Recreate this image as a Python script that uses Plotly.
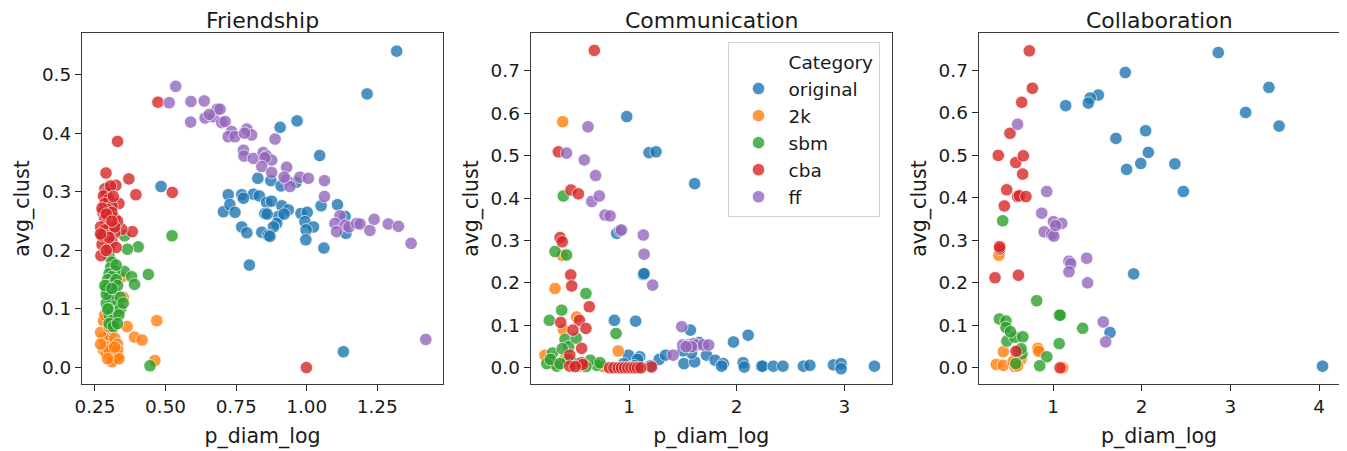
import plotly.graph_objects as go

# ---------------- data ----------------
panels = ["Friendship", "Communication", "Collaboration"]
categories = ["original", "2k", "sbm", "cba", "ff"]
colors = ["#1f77b4", "#ff7f0e", "#2ca02c", "#d62728", "#9467bd"]

# Friendship
fr_original = [(1.319,0.540),(1.214,0.467),(0.966,0.421),(0.906,0.410),(1.046,0.362),(0.484,0.309),(0.827,0.323),
    (0.873,0.319),(0.909,0.310),(0.962,0.316),(0.722,0.295),(0.770,0.295),(0.811,0.296),(0.832,0.293),(0.705,0.266),
    (0.728,0.278),(0.746,0.265),(0.776,0.289),(0.858,0.282),(0.876,0.284),(0.912,0.276),(0.935,0.269),(0.852,0.263),
    (0.900,0.258),(0.894,0.246),(0.882,0.240),(0.980,0.263),(1.002,0.265),(0.994,0.249),(1.024,0.240),(0.998,0.235),
    (0.997,0.218),(1.051,0.276),(1.109,0.278),(1.061,0.204),(0.770,0.240),(0.788,0.230),(0.841,0.231),(0.864,0.226),
    (0.797,0.175),(1.136,0.258),(1.139,0.229),(1.130,0.027),(0.860,0.262),(0.870,0.224),(0.920,0.262)]
fr_2k = [(0.469,0.080),(0.364,0.070),(0.390,0.052),(0.417,0.047),(0.462,0.012),(0.350,0.120),(0.345,0.155),
    (0.280,0.050),(0.290,0.045),(0.300,0.040),(0.280,0.030),(0.290,0.025),(0.310,0.020),(0.320,0.015),(0.330,0.020),
    (0.300,0.055),(0.270,0.060),(0.310,0.065),(0.320,0.050),(0.330,0.040),(0.290,0.035),(0.300,0.030),(0.330,0.030),
    (0.280,0.080),(0.270,0.040),(0.310,0.010),(0.335,0.015),(0.300,0.070),(0.285,0.090),(0.320,0.035),(0.295,0.015)]
fr_sbm = [(0.523,0.225),(0.403,0.206),(0.365,0.202),(0.354,0.164),(0.380,0.155),(0.390,0.142),(0.439,0.159),
    (0.445,0.003),(0.355,0.225),(0.300,0.190),(0.310,0.180),(0.305,0.170),(0.320,0.165),(0.300,0.160),(0.310,0.155),
    (0.295,0.150),(0.315,0.145),(0.300,0.140),(0.290,0.135),(0.320,0.130),(0.305,0.125),(0.300,0.120),(0.310,0.115),
    (0.290,0.110),(0.320,0.105),(0.300,0.100),(0.310,0.095),(0.300,0.090),(0.320,0.085),(0.310,0.080),(0.300,0.075),
    (0.315,0.070),(0.340,0.120),(0.340,0.100),(0.335,0.090),(0.350,0.110),(0.325,0.150),(0.290,0.125),(0.285,0.140),
    (0.330,0.140),(0.325,0.175),(0.310,0.135),(0.295,0.100),(0.330,0.075)]
fr_cba = [(0.473,0.453),(0.524,0.299),(0.330,0.386),(0.999,0.000),(0.289,0.332),(0.370,0.322),(0.324,0.311),
    (0.395,0.295),(0.382,0.232),(0.345,0.236),(0.271,0.191),(0.335,0.280),(0.285,0.305),(0.290,0.298),(0.280,0.293),
    (0.300,0.288),(0.285,0.280),(0.310,0.275),(0.295,0.270),(0.278,0.265),(0.300,0.260),(0.285,0.255),(0.320,0.255),
    (0.330,0.250),(0.290,0.245),(0.270,0.240),(0.300,0.240),(0.285,0.235),(0.320,0.230),(0.295,0.225),(0.280,0.220),
    (0.310,0.215),(0.275,0.210),(0.300,0.205),(0.325,0.205),(0.290,0.200),(0.305,0.310),(0.315,0.292),(0.275,0.272),
    (0.310,0.265),(0.320,0.240),(0.275,0.225),(0.300,0.222),(0.290,0.262),(0.270,0.228),(0.310,0.250)]
fr_ff = [(0.536,0.480),(0.513,0.452),(0.590,0.454),(0.637,0.455),(0.589,0.419),(0.640,0.426),(0.669,0.428),
    (0.683,0.441),(0.699,0.418),(0.655,0.432),(0.693,0.441),(0.711,0.420),(0.734,0.403),(0.722,0.394),(0.746,0.394),
    (0.788,0.407),(0.805,0.397),(0.780,0.400),(0.888,0.390),(0.776,0.371),(0.778,0.361),(0.811,0.357),(0.846,0.367),
    (0.858,0.361),(0.876,0.354),(0.852,0.358),(0.841,0.343),(0.876,0.333),(0.929,0.342),(0.929,0.320),(0.941,0.309),
    (0.920,0.325),(0.976,0.325),(1.006,0.323),(1.063,0.319),(1.063,0.292),(1.118,0.259),(1.100,0.246),(1.136,0.243),
    (1.106,0.232),(1.150,0.240),(1.177,0.246),(1.189,0.245),(1.224,0.234),(1.239,0.253),(1.289,0.245),(1.325,0.241),
    (1.370,0.212),(1.422,0.048)]

# Communication
co_original = [(0.979,0.592),(1.186,0.507),(1.251,0.509),(1.610,0.434),(0.886,0.317),(1.133,0.220),(1.140,0.222),
    (0.864,0.112),(1.062,0.110),(1.570,0.089),(1.970,0.061),(2.107,0.077),(0.994,0.030),(1.100,0.026),(1.080,0.020),
    (1.280,0.020),(1.340,0.030),(1.510,0.010),(1.610,0.014),(1.580,0.035),(1.720,0.030),(1.800,0.018),(1.876,0.010),
    (1.860,0.004),(2.060,0.012),(2.070,0.002),(2.230,0.004),(2.240,0.004),(2.340,0.004),(2.430,0.004),(2.620,0.004),
    (2.680,0.006),(2.900,0.007),(2.970,0.010),(2.970,-0.002),(3.280,0.004),(1.050,0.005),(1.200,0.005),(1.650,0.060),
    (1.500,0.040),(0.950,0.010)]
co_2k = [(0.384,0.580),(0.313,0.187),(0.514,0.120),(0.390,0.090),(0.900,0.040),(0.220,0.030),(0.400,0.020),
    (0.550,0.005),(0.760,0.003),(0.380,0.265),(0.300,0.010)]
co_sbm = [(0.390,0.405),(0.313,0.274),(0.420,0.266),(0.600,0.175),(0.375,0.136),(0.260,0.112),(0.880,0.081),
    (0.406,0.067),(0.440,0.050),(0.290,0.035),(0.236,0.010),(0.330,0.004),(0.700,0.006),(0.640,0.018),(0.500,0.010),
    (0.510,0.070),(0.380,0.045),(0.270,0.020),(0.600,0.003),(0.730,0.012),(0.430,0.020),(0.360,0.010)]
co_cba = [(0.678,0.748),(0.344,0.509),(0.360,0.307),(0.380,0.297),(0.461,0.419),(0.530,0.410),(0.459,0.219),
    (0.468,0.193),(0.631,0.144),(0.366,0.107),(0.540,0.112),(0.480,0.089),(0.600,0.093),(0.560,0.046),(0.450,0.030),
    (0.450,0.004),(0.560,0.012),(0.570,0.008),(1.210,0.002),(0.820,0.000),(0.860,0.000),(0.900,0.000),(0.930,0.000),
    (0.960,0.000),(0.990,0.000),(1.020,0.000),(1.050,0.000),(1.080,0.000),(1.110,0.000),(0.500,0.003)]
co_ff = [(0.619,0.568),(0.420,0.506),(0.585,0.490),(0.690,0.453),(0.654,0.392),(0.724,0.405),(0.777,0.360),
    (0.824,0.358),(0.916,0.323),(0.930,0.325),(1.133,0.313),(1.140,0.268),(1.220,0.195),(1.490,0.097),(1.410,0.030),
    (1.500,0.054),(1.550,0.054),(1.600,0.057),(1.630,0.054),(1.690,0.054),(1.740,0.054),(1.580,0.050),(1.530,0.050)]

# Collaboration
cl_original = [(2.864,0.742),(1.815,0.695),(3.435,0.660),(1.511,0.642),(1.420,0.635),(1.398,0.623),(1.143,0.617),
    (3.172,0.601),(3.550,0.569),(1.710,0.540),(2.045,0.558),(2.075,0.507),(1.990,0.481),(1.830,0.467),(2.375,0.480),
    (2.470,0.415),(1.910,0.221),(1.643,0.083),(4.040,0.004)]
cl_2k = [(0.390,0.265),(0.440,0.038),(0.360,0.008),(0.440,0.006),(0.570,0.003),(0.830,0.046),(0.840,0.039),
    (1.110,0.000),(0.640,0.020),(0.550,0.015),(0.600,0.005)]
cl_sbm = [(0.433,0.346),(0.816,0.158),(0.395,0.115),(0.470,0.110),(0.470,0.095),(1.070,0.124),(1.080,0.124),
    (1.335,0.093),(1.070,0.057),(0.930,0.026),(0.850,0.005),(0.480,0.063),(0.570,0.072),(0.660,0.073),(0.650,0.033),
    (0.580,0.010),(0.610,0.040),(0.520,0.085),(0.640,0.045)]
cl_cba = [(0.733,0.746),(0.767,0.658),(0.647,0.625),(0.515,0.552),(0.383,0.500),(0.580,0.483),(0.665,0.499),
    (0.658,0.456),(0.478,0.419),(0.451,0.381),(0.600,0.403),(0.620,0.405),(0.695,0.403),(0.400,0.280),(0.398,0.285),
    (0.346,0.212),(0.610,0.218),(0.583,0.039),(1.080,0.000)]
cl_ff = [(0.600,0.573),(0.929,0.415),(0.873,0.364),(1.004,0.344),(1.098,0.340),(0.900,0.320),(0.985,0.314),
    (1.010,0.310),(1.180,0.251),(1.200,0.245),(1.180,0.226),(1.380,0.258),(1.390,0.200),(1.567,0.108),(1.594,0.061),
    (1.030,0.335)]

panel_data = [
    [fr_original, fr_2k, fr_sbm, fr_cba, fr_ff],
    [co_original, co_2k, co_sbm, co_cba, co_ff],
    [cl_original, cl_2k, cl_sbm, cl_cba, cl_ff],
]

x_ranges = [[0.204, 1.483], [0.087, 3.44], [0.162, 4.229]]
y_ranges = [[-0.028, 0.571], [-0.038, 0.789], [-0.038, 0.788]]
x_ticks = [[0.25, 0.5, 0.75, 1.0, 1.25], [1, 2, 3], [1, 2, 3, 4]]
x_fmt = [".2f", "d", "d"]
y_ticks = [[0.0, 0.1, 0.2, 0.3, 0.4, 0.5], [0.0, 0.1, 0.2, 0.3, 0.4, 0.5, 0.6, 0.7],
           [0.0, 0.1, 0.2, 0.3, 0.4, 0.5, 0.6, 0.7]]

# ---------------- figure ----------------
# the page body adds an 8px margin, so every screen position is offset by 8px
OFF = 8
W, H = 1347 - OFF, 451 - OFF


def px_x(v):
    return min(1.0, max(0.0, (v - OFF) / W))


def px_y(v):
    return min(1.0, max(0.0, 1 - (v - OFF) / H))


x_domains = [[px_x(82), px_x(443)], [px_x(530.7), px_x(891.7)], [px_x(978.7), px_x(1339.3)]]
y_domain = [px_y(384), px_y(33)]
TXT = "#1a1a1a"
FONT = "DejaVu Sans"

fig = go.Figure()

# legend heading pseudo-entry (seaborn style)
fig.add_trace(go.Scatter(x=[None], y=[None], mode="markers", name="Category",
                         marker=dict(size=1, color="rgba(0,0,0,0)"), showlegend=True,
                         xaxis="x2", yaxis="y2"))

for p in range(3):
    suffix = "" if p == 0 else str(p + 1)
    for c, cat in enumerate(categories):
        pts = panel_data[p][c]
        fig.add_trace(go.Scatter(
            x=[q[0] for q in pts], y=[q[1] for q in pts], mode="markers", name=cat,
            legendgroup=cat, showlegend=(p == 1),
            marker=dict(size=12.5, color=colors[c], opacity=0.8,
                        line=dict(color="white", width=0.8)),
            xaxis="x" + suffix, yaxis="y" + suffix, hoverinfo="skip"))

layout = dict(
    width=W, height=H, margin=dict(l=0, r=0, t=0, b=0, autoexpand=False),
    paper_bgcolor="white", plot_bgcolor="white",
    font=dict(family=FONT, color=TXT, size=18),
    showlegend=True,
    legend=dict(x=px_x(727.5), y=px_y(42), xanchor="left", yanchor="top",
                bgcolor="white", bordercolor="#d4d4d4", borderwidth=1,
                font=dict(size=18.5, family=FONT, color=TXT), itemwidth=50,
                itemsizing="trace", tracegroupgap=0),
)
annotations = []
for p in range(3):
    suffix = "" if p == 0 else str(p + 1)
    layout["xaxis" + suffix] = dict(
        domain=x_domains[p], anchor="y" + suffix, range=x_ranges[p], automargin=False,
        tickvals=x_ticks[p], tickformat=x_fmt[p], ticks="outside", ticklen=6, tickwidth=1.3,
        tickcolor="#262626", showline=True, linecolor="#3a3a3a", linewidth=1.3, mirror=True,
        showgrid=False, zeroline=False, tickfont=dict(size=18.4, family=FONT, color=TXT),
        title=dict(text="p_diam_log", font=dict(size=20.5, family=FONT, color=TXT), standoff=12))
    layout["yaxis" + suffix] = dict(
        domain=y_domain, anchor="x" + suffix, range=y_ranges[p], automargin=False,
        tickvals=y_ticks[p], tickformat=".1f", ticks="outside", ticklen=6, tickwidth=1.3,
        tickcolor="#262626", showline=True, linecolor="#3a3a3a", linewidth=1.3, mirror=True,
        showgrid=False, zeroline=False, tickfont=dict(size=18.4, family=FONT, color=TXT),
        title=dict(text="avg_clust", font=dict(size=20.5, family=FONT, color=TXT), standoff=6))
    annotations.append(dict(
        text=panels[p], x=(x_domains[p][0] + x_domains[p][1]) / 2, y=px_y(20),
        xref="paper", yref="paper", xanchor="center", yanchor="middle", showarrow=False,
        font=dict(size=22, family=FONT, color=TXT)))
layout["annotations"] = annotations
fig.update_layout(**layout)

fig.write_html("out.html")
